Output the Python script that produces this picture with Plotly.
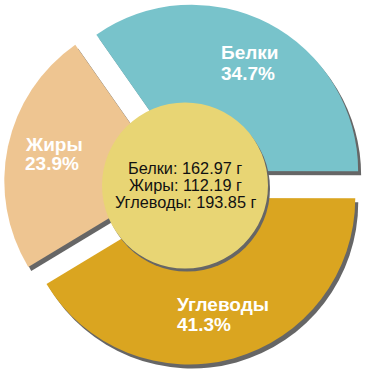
import plotly.graph_objects as go

labels = ["Белки", "Жиры", "Углеводы"]
grams = [162.97, 112.19, 193.85]
percent_labels = ["34.7%", "23.9%", "41.3%"]
colors = ["#78C3CB", "#EEC591", "#DAA520"]
shadow_color = "#666666"
center_color = "#E8D574"
pull = 0.088

W = H = 370

def px_x(x):
    return x / W

def px_y(y):
    return 1 - y / H

# main pie box (pixels): center (185,185), size 361
cx, cy, box = 185, 185, 362
sdx, sdy = 3, 4

def dom(cx, cy):
    return dict(x=[px_x(cx - box / 2), px_x(cx + box / 2)],
                y=[px_y(cy + box / 2), px_y(cy - box / 2)])

common = dict(values=grams, labels=labels, sort=False, direction="counterclockwise",
              rotation=-35, pull=[pull] * 3, textinfo="none", hoverinfo="skip",
              showlegend=False)

fig = go.Figure()
fig.add_trace(go.Pie(**common, domain=dom(cx + sdx, cy + sdy - 1),
                     marker=dict(colors=[shadow_color] * 3, line=dict(width=0))))
fig.add_trace(go.Pie(**common, domain=dom(cx, cy - 1),
                     marker=dict(colors=colors, line=dict(width=0))))

# center circle with shadow
rc = 83
fig.add_shape(type="circle", xref="paper", yref="paper",
              x0=px_x(cx - rc + 2), x1=px_x(cx + rc + 2),
              y0=px_y(cy + 0.5 + rc + 3), y1=px_y(cy + 0.5 - rc + 3),
              fillcolor=shadow_color, line=dict(width=0))
fig.add_shape(type="circle", xref="paper", yref="paper",
              x0=px_x(cx - rc), x1=px_x(cx + rc),
              y0=px_y(cy + 0.5 + rc), y1=px_y(cy + 0.5 - rc),
              fillcolor=center_color, line=dict(width=0))

label_font = dict(family="Liberation Sans, Arial, sans-serif", size=19, color="white")
label_pos = [(219, 52.5, 73), (23, 144.7, 163.5), (175, 304.7, 324.2)]
for name, pct, (lx, y1, y2) in zip(labels, percent_labels, label_pos):
    fig.add_annotation(x=px_x(lx), y=px_y(y1), xref="paper", yref="paper",
                       text="<b>%s</b>" % name, showarrow=False,
                       xanchor="left", yanchor="middle", font=label_font)
    fig.add_annotation(x=px_x(lx), y=px_y(y2), xref="paper", yref="paper",
                       text="<b>%s</b>" % pct, showarrow=False,
                       xanchor="left", yanchor="middle", font=label_font)

center_font = dict(family="Liberation Sans, Arial, sans-serif", size=16.3, color="#111111")
center_y = [168.3, 184.8, 201.5]
for name, g, yy in zip(labels, grams, center_y):
    fig.add_annotation(x=px_x(185), y=px_y(yy), xref="paper", yref="paper",
                       text="%s: %.2f г" % (name, g), showarrow=False,
                       xanchor="center", yanchor="middle", font=center_font)

fig.update_layout(width=W, height=H, margin=dict(l=0, r=0, t=0, b=0),
                  paper_bgcolor="white", plot_bgcolor="white")

fig.write_html("out.html", config={"displayModeBar": False},
               post_script="document.body.style.margin='0';")
